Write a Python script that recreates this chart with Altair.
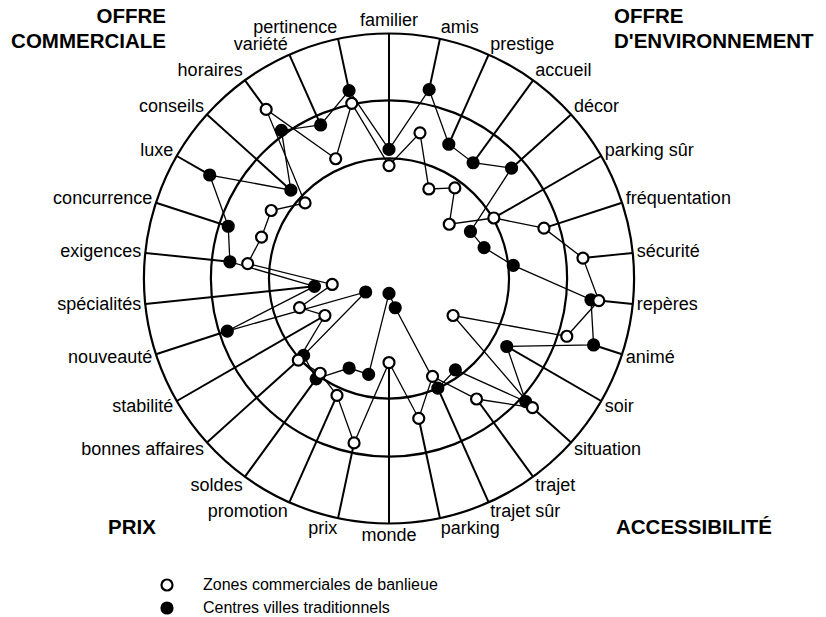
import math
import altair as alt
import pandas as pd

# ---------------- data ----------------
categories = ["familier", "amis", "prestige", "accueil", "décor", "parking sûr",
              "fréquentation", "sécurité", "repères", "animé", "soir", "situation",
              "trajet", "trajet sûr", "parking", "monde", "prix", "promotion",
              "soldes", "bonnes affaires", "stabilité", "nouveauté", "spécialités",
              "exigences", "concurrence", "luxe", "conseils", "horaires", "variété",
              "pertinence"]

zones_banlieue = [46.1, 60.8, 40.0, 45.7, 33.1, 49.4, 66.5, 79.6, 86.1, 76.3,
                  30.2, 78.8, 60.8, 43.7, 58.4, 34.3, 68.6, 52.2, 47.8, 49.8,
                  30.2, 38.4, 23.3, 58.0, 54.7, 55.5, 46.1, 85.3, 53.5, 73.1]

centres_villes = [52.7, 78.8, 60.0, 58.4, 67.3, 38.4, 40.8, 51.0, 82.9, 87.8,
                  55.5, 75.1, 46.1, 49.0, 12.2, 6.1, 40.0, 40.0, 50.6, 46.9,
                  11.0, 69.4, 30.6, 65.3, 69.0, 84.5, 53.9, 74.7, 68.6, 78.4]

circle_levels = [49.0, 72.7, 100.0]

series_names = ["Zones commerciales de banlieue", "Centres villes traditionnels"]

# ---------------- layout ----------------
TOP = 6                    # top padding so the corner titles stay inside the svg
W, H = 810, 603
CX, CY = 381.0, 270.5 - TOP  # centre of the rings inside the plot area (px)
K = 2.45                   # px per unit (outer ring = 100)
N = len(categories)
STEP = "PI/%d" % (N // 2)  # angular step expression

xs = alt.Scale(domain=[-CX / K, (W - CX) / K], range=[0, W], nice=False, zero=False)
ys = alt.Scale(domain=[-(H - CY) / K, CY / K], range=[H, 0], nice=False, zero=False)

FONT = "Liberation Sans"

# ---------------- tables ----------------
rows = []
for name, vals in ((series_names[1], centres_villes), (series_names[0], zones_banlieue)):
    for i, v in enumerate(vals):
        rows.append({"idx": i, "cat": categories[i], "series": name, "v": v})
pts_df = pd.DataFrame(rows)

line_rows = []
for name, vals in ((series_names[0], zones_banlieue), (series_names[1], centres_villes)):
    for i, v in enumerate(vals + [vals[0]]):
        line_rows.append({"idx": i % N, "ord": i, "series": name, "v": v})
line_df = pd.DataFrame(line_rows)

spoke_df = pd.DataFrame({
    "idx": list(range(N)),
    "rmax": [max(a, b) for a, b in zip(zones_banlieue, centres_villes)],
})
label_df = pd.DataFrame({"idx": list(range(N)), "cat": categories})
ring_df = pd.DataFrame({"lvl": circle_levels})

# ---------------- layers ----------------
rings = alt.Chart(ring_df).mark_arc(
    filled=False, stroke="black", strokeWidth=2.2, theta=0, theta2=2 * math.pi
).encode(
    x=alt.XDatum(0, type="quantitative", scale=xs, axis=None),
    y=alt.YDatum(0, type="quantitative", scale=ys, axis=None),
    radius=alt.Radius("lvl:Q", stack=None,
                      scale=alt.Scale(type="linear", domain=[0, 100],
                                      range=[0, 100 * K], zero=True)),
)

spokes = alt.Chart(spoke_df).transform_calculate(
    th="datum.idx*" + STEP,
).transform_calculate(
    x1="100*sin(datum.th)", y1="100*cos(datum.th)",
    x2="datum.rmax*sin(datum.th)", y2="datum.rmax*cos(datum.th)",
).mark_rule(color="black", strokeWidth=2).encode(
    x=alt.X("x1:Q", scale=xs, axis=None),
    y=alt.Y("y1:Q", scale=ys, axis=None),
    x2="x2:Q",
    y2="y2:Q",
)

lines = alt.Chart(line_df).transform_calculate(
    th="datum.idx*" + STEP,
).transform_calculate(
    px="datum.v*sin(datum.th)", py="datum.v*cos(datum.th)",
).mark_line(color="black", strokeWidth=1.3).encode(
    x=alt.X("px:Q", scale=xs, axis=None),
    y=alt.Y("py:Q", scale=ys, axis=None),
    detail="series:N",
    order="ord:Q",
)

points = alt.Chart(pts_df).transform_calculate(
    th="datum.idx*" + STEP,
).transform_calculate(
    px="datum.v*sin(datum.th)", py="datum.v*cos(datum.th)",
).mark_point(filled=True, size=121, stroke="black", strokeWidth=2.2, opacity=1,
             shape="circle").encode(
    x=alt.X("px:Q", scale=xs, axis=None),
    y=alt.Y("py:Q", scale=ys, axis=None),
    fill=alt.Fill("series:N",
                  scale=alt.Scale(domain=series_names, range=["white", "black"]),
                  legend=alt.Legend(orient="none", legendX=151, legendY=569 - TOP,
                                    title=None, symbolType="circle", symbolSize=121,
                                    symbolStrokeColor="black", symbolStrokeWidth=2.2,
                                    labelFont=FONT, labelFontSize=16,
                                    labelColor="black", labelOffset=28,
                                    labelLimit=0, rowPadding=3, padding=0)),
)


def label_layer(filter_expr, align, dx_px, dy_px):
    return alt.Chart(label_df).transform_calculate(
        th="datum.idx*" + STEP,
    ).transform_filter(filter_expr).transform_calculate(
        lx="100*sin(datum.th) + %f*sin(datum.th)" % (dx_px / K),
        ly="100*cos(datum.th) + %f*cos(datum.th)" % (dy_px / K),
    ).mark_text(font=FONT, fontSize=18, color="black", align=align,
                baseline="middle").encode(
        x=alt.X("lx:Q", scale=xs, axis=None),
        y=alt.Y("ly:Q", scale=ys, axis=None),
        text="cat:N",
    )


lab_right = label_layer("sin(datum.th) > 0.01", "left", 4, 11)
lab_left = label_layer("sin(datum.th) < -0.01", "right", 4, 11)
lab_mid = label_layer("abs(sin(datum.th)) <= 0.01", "center", 0, 12.5)


def title_text(text, x_px, y_page, align):
    # y_page: vertical centre of the capitals in page pixels
    return alt.Chart(pd.DataFrame({"k": [0]})).mark_text(
        font=FONT, fontSize=20.5, fontWeight="bold", color="black",
        align=align, baseline="middle",
    ).encode(x=alt.value(x_px), y=alt.value(y_page - 8 - TOP), text=alt.value(text))


titles = [
    title_text("OFFRE", 158, 17, "right"),
    title_text("COMMERCIALE", 158, 42, "right"),
    title_text("OFFRE", 606, 17, "left"),
    title_text("D'ENVIRONNEMENT", 606, 42, "left"),
    title_text("PRIX", 100, 528, "left"),
    title_text("ACCESSIBILITÉ", 608, 528, "left"),
]

chart = alt.layer(
    rings, spokes, lines, points, lab_right, lab_left, lab_mid, *titles
).properties(
    width=W, height=H,
    padding={"left": 0, "top": TOP, "right": 0, "bottom": 0},
    autosize=alt.AutoSizeParams(type="none"),
).configure_view(stroke=None)

chart.save("out.html", embed_options={"renderer": "svg", "actions": False})
